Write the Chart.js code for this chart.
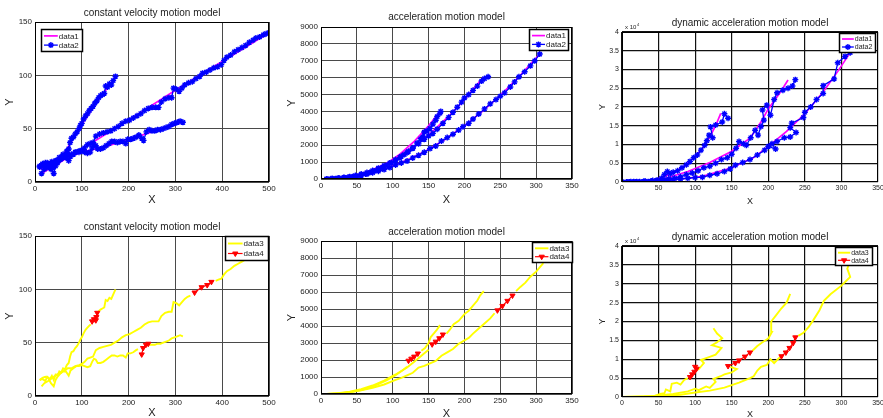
<!DOCTYPE html>
<html>
<head>
<meta charset="utf-8">
<script src="https://cdn.jsdelivr.net/npm/chart.js@4.4.1/dist/chart.umd.min.js"></script>
<style>
html, body { margin: 0; padding: 0; background: #fff; overflow: hidden; }
body { width: 883px; height: 418px; position: relative; }
canvas { position: absolute; }
</style>
</head>
<body>
<script>
// ---- constant velocity model (x, y) ----
const cvTrueA = [[12,12],[40,17],[60,25],[75,36],[100,54],[120,67],[140,80],[160,91],[172,99]];
const cvTrueB = [[14,8],[100,31],[200,58],[300,86],[400,113],[500,140]];
const cvTrueC = [[10,14],[50,20],[100,28],[150,33],[200,40],[250,47],[315,56]];

const cvMeasA = [[10,14],[16,16],[22,13],[26,18],[32,15],[36,19],[40,14],[44,20],[48,19],[52,23],[56,22],[60,26],[64,25],[68,29],[72,31],[75,37],[78,41],[82,42],[86,45],[90,47],[94,50],[97,53],[100,55],[104,59],[108,62],[112,64],[116,67],[120,69],[124,71],[128,74],[132,76],[136,79],[140,81],[144,82],[148,83],[151,90],[155,89],[159,92],[163,91],[167,95],[172,99]];
const cvMeasB = [[14,8],[20,12],[28,14],[34,16],[40,18],[46,20],[52,21],[58,23],[64,24],[70,26],[78,26],[86,28],[94,29],[100,30],[106,32],[112,35],[118,36],[124,37],[130,43],[138,45],[146,46],[154,47],[162,48],[170,50],[178,52],[186,55],[194,57],[202,58],[210,60],[218,62],[226,64],[234,67],[242,69],[250,70],[258,70],[264,70],[270,75],[278,78],[286,79],[292,79],[296,88],[302,87],[308,85],[314,88],[320,91],[328,93],[336,94],[344,97],[352,99],[358,102],[366,103],[374,105],[382,107],[390,108],[398,110],[404,114],[410,117],[418,119],[426,122],[434,124],[442,126],[450,128],[458,131],[466,133],[472,135],[480,136],[488,138],[494,139],[500,140]];
const cvMeasC = [[10,15],[16,17],[22,18],[28,17],[34,12],[40,8],[44,15],[48,18],[54,21],[60,23],[66,23],[72,20],[76,24],[82,26],[88,28],[94,28],[100,29],[106,28],[112,27],[118,28],[122,32],[126,35],[130,34],[134,31],[140,31],[146,32],[152,34],[158,36],[164,38],[170,38],[176,37],[182,38],[188,38],[194,36],[198,40],[204,40],[210,41],[216,42],[222,44],[228,41],[232,39],[238,47],[244,49],[250,48],[256,48],[262,49],[268,49],[274,50],[280,51],[286,52],[292,54],[298,55],[304,56],[310,57],[316,56]];

const cvObsA = [[10,15],[16,16],[22,14],[26,18],[32,16],[36,19],[40,15],[44,20],[48,19],[52,23],[56,22],[60,26],[64,25],[68,29],[72,31],[75,37],[78,41],[82,42],[86,45],[90,47],[94,50],[97,53],[100,55],[104,59],[108,62],[112,64],[116,66],[119,67],null,[135,79],[140,81],[144,82],[148,83],[151,90],[155,89],[159,92],[163,91],[167,95],[172,100]];
const cvObsB = [[14,9],[20,12],[28,14],[34,16],[40,18],[46,20],[52,21],[58,23],[64,24],[70,26],[78,26],[86,28],[94,29],[100,30],[106,32],[112,35],[118,36],[124,37],[130,43],[138,45],[146,46],[154,47],[162,48],[170,50],[178,52],[186,55],[194,57],[202,58],[210,60],[218,62],[226,64],[234,67],[242,69],[250,70],[258,70],[264,70],[270,75],[278,78],[286,79],[292,79],[296,88],[302,87],[308,85],[314,88],[320,91],[326,93],[332,94],null,[386,108],[392,109],[398,110],[404,114],[410,117],[418,119],[426,122],[434,124],[442,126],[450,128],[458,131],[466,133],[472,135],[480,136],[488,138],[500,140]];
const cvObsC = [[10,15],[16,17],[22,18],[28,17],[34,12],[40,9],[44,15],[48,18],[54,21],[60,23],[66,23],[72,19],[76,24],[82,26],[88,28],[94,28],[100,29],[106,28],[112,27],[118,28],[122,32],[126,35],[130,34],[134,31],[140,31],[146,32],[152,34],[158,36],[164,38],[170,38],[176,37],[182,38],[188,38],[194,36],[198,40],[204,40],[210,41],[216,43],[220,44],null,[244,48],[250,48],[256,48],[262,49],[268,49],[274,50],[280,51],[286,52],[292,54],[298,55],[304,56],[310,57],[316,56]];
const cvPredA = [[122,70],[126,72],[130,71],[131,74],[133,78]];
const cvPredB = [[341,97],[356,102],[368,104],[377,107]];
const cvPredC = [[228,39],[231,45],[237,48],[242,49]];

// ---- acceleration model ----
const accTrueA = [[8,0],[30,10],[50,140],[70,420],[90,870],[110,1470],[130,2230],[150,3150],[166,4000]];
const accTrueB = [[8,0],[30,70],[50,230],[70,520],[100,1100],[130,1950],[150,2600],[180,3800],[200,4700],[226,6000]];
const accTrueC = [[8,0],[30,60],[50,180],[75,420],[100,770],[125,1210],[150,1750],[175,2400],[200,3150],[225,4000],[250,4950],[275,6000],[305,7400]];

const accMeasA = [[8,0],[14,10],[20,20],[26,40],[32,60],[38,90],[44,130],[50,170],[56,230],[62,300],[68,380],[74,470],[80,580],[86,700],[92,820],[98,960],[104,1100],[110,1280],[116,1450],[122,1640],[128,1850],[134,2130],[139,2380],[142,2500],[144,2780],[148,2850],[152,3000],[156,3250],[160,3480],[162,3700],[166,3900],[167,4000]];
const accMeasB = [[8,0],[16,20],[24,50],[32,90],[40,140],[48,200],[56,290],[64,380],[72,500],[80,640],[88,790],[96,950],[104,1150],[112,1340],[120,1560],[128,1820],[136,2080],[144,2350],[150,2550],[156,2700],[162,2950],[170,3300],[178,3650],[184,3950],[190,4250],[196,4550],[200,4800],[206,5000],[212,5250],[218,5500],[224,5800],[228,5950],[233,6050]];
const accMeasC = [[8,0],[16,20],[24,40],[32,70],[40,110],[48,160],[56,220],[64,290],[72,370],[80,460],[88,560],[96,680],[104,830],[112,950],[120,1060],[128,1250],[136,1400],[144,1580],[152,1800],[160,1950],[168,2250],[176,2450],[184,2650],[192,2900],[198,3100],[206,3300],[212,3550],[220,3850],[228,4150],[236,4450],[244,4700],[250,4900],[256,5100],[264,5450],[270,5750],[276,6050],[284,6350],[292,6700],[298,7000],[305,7400]];

const accObsA = [[8,0],[20,20],[32,60],[44,130],[56,230],[68,380],[80,580],[92,820],[104,1100],[114,1400],[120,1600],null,[140,2550],[145,2700],[150,3000],[153,3350],[158,3600],[162,3800],[166,4050]];
const accObsB = [[8,0],[24,50],[40,140],[56,290],[72,500],[88,790],[104,1150],[120,1560],[130,1900],[140,2250],[150,2600],null,[175,3550],[180,3800],[185,4100],[192,4300],[200,4700],[206,4900],[212,5200],[218,5500],[222,5800],[227,6050]];
const accObsC = [[8,0],[24,40],[40,110],[56,220],[72,370],[88,560],[104,830],[112,950],[120,1100],[128,1250],[136,1550],[144,1650],[152,1800],[160,1950],[168,2250],[176,2450],[184,2650],[192,2950],[198,3100],[206,3300],[212,3550],[220,3850],[228,4150],[236,4450],[242,4750],null,[272,6050],[278,6300],[285,6550],[292,6900],[300,7200],[310,7700]];
const accPredA = [[122,1960],[126,2080],[130,2200],[135,2380]];
const accPredB = [[155,2920],[160,3080],[165,3280],[170,3500]];
const accPredC = [[246,4920],[253,5180],[260,5480],[267,5790]];

// ---- dynamic acceleration model (y in units of 10^4) ----
const dynTrueA = [[0,0],[20,0.01],[40,0.04],[55,0.12],[70,0.25],[85,0.42],[100,0.68],[110,0.9],[120,1.2],[128,1.5],[135,1.83]];
const dynTrueB = [[0,0],[30,0.02],[60,0.1],[90,0.28],[120,0.52],[150,0.82],[175,1.17],[190,1.6],[200,1.95],[215,2.35],[227,2.72]];
const dynTrueC = [[0,0],[50,0.02],[80,0.08],[110,0.15],[150,0.38],[180,0.65],[200,0.95],[225,1.35],[250,1.82],[275,2.4],[295,2.95],[312,3.45]];

const dynMeasA = [[0,0],[6,0],[12,0.01],[18,0],[24,0.01],[30,0.02],[36,0.01],[42,0.04],[48,0.05],[54,0.1],[58,0.2],[62,0.28],[66,0.22],[70,0.26],[76,0.3],[82,0.38],[88,0.46],[93,0.55],[98,0.65],[103,0.72],[108,0.85],[113,0.98],[116,1.1],[119,1.25],[124,1.18],[121,1.47],[128,1.52],[137,1.6],[140,1.82],[145,1.7]];
const dynMeasB = [[0,0],[8,0],[16,0.01],[24,0],[32,0.02],[40,0.02],[48,0.04],[56,0.06],[64,0.08],[72,0.1],[80,0.14],[88,0.2],[96,0.24],[104,0.3],[112,0.38],[120,0.42],[128,0.5],[136,0.6],[144,0.65],[150,0.74],[156,0.9],[160,1.08],[166,1.02],[170,0.98],[176,1.18],[182,1.38],[186,1.25],[190,1.48],[194,1.65],[192,1.92],[198,2.05],[203,1.78],[208,2.2],[212,2.38],[220,2.45],[227,2.5],[233,2.56],[237,2.73]];
const dynMeasC = [[0,0],[10,0],[20,0.01],[30,0.01],[40,0.02],[50,0.03],[60,0.05],[70,0.06],[80,0.08],[90,0.1],[100,0.12],[110,0.13],[120,0.18],[130,0.22],[140,0.28],[148,0.35],[155,0.45],[165,0.52],[175,0.6],[185,0.72],[195,0.85],[200,0.95],[210,0.88],[205,1.02],[212,1.08],[222,1.18],[230,1.2],[238,1.32],[230,1.45],[232,1.57],[248,1.72],[250,1.86],[258,2.0],[266,2.2],[275,2.36],[275,2.57],[290,2.75],[295,3.18],[305,3.35],[312,3.45]];

const dynObsA = [[0,0],[15,0],[30,0.01],[45,0.03],[52,0.08],[58,0.1],[60,0.2],[66,0.15],[68,0.35],[75,0.38],[80,0.33],[85,0.45],[90,0.5],null,[104,0.72],[112,0.9],[108,0.98],[118,1.05],[128,1.12],[136,1.3],[123,1.37],[130,1.45],[137,1.56],[130,1.68],[125,1.82]];
const dynObsB = [[0,0],[40,0.02],[70,0.08],[90,0.15],[100,0.22],[105,0.18],[115,0.28],[120,0.24],[128,0.4],[125,0.48],[135,0.55],[140,0.6],[150,0.65],[157,0.74],[148,0.8],null,[178,1.22],[185,1.35],[192,1.45],[200,1.55],[205,1.72],[204,2.0],[210,2.15],[218,2.35],[225,2.5],[230,2.73]];
const dynObsC = [[0,0],[50,0.02],[80,0.06],[100,0.12],[120,0.17],[140,0.25],[160,0.38],[175,0.5],[180,0.55],[185,0.7],[190,0.8],[198,0.85],[203,1.0],[208,0.9],[214,1.02],[217,1.06],null,[241,1.62],[248,1.7],[255,1.85],[262,2.05],[270,2.3],[276,2.55],[285,2.72],[300,2.95],[312,3.18],[308,3.4],[312,3.6],[316,3.9]];
const dynPredA = [[93,0.53],[96,0.6],[99,0.67],[102,0.75],[100,0.8]];
const dynPredB = [[145,0.82],[155,0.9],[160,0.97],[168,1.07],[175,1.18]];
const dynPredC = [[218,1.08],[224,1.18],[229,1.3],[234,1.43],[237,1.58]];

// axis ranges [min, max, step]
const cvX = [0, 500, 100], cvY = [0, 150, 50];
const accX = [0, 350, 50], accY = [0, 9000, 1000];
const dynX = [0, 350, 50], dynY = [0, 4, 0.5];

Chart.defaults.font.family = "'Liberation Sans', Arial, sans-serif";
Chart.defaults.color = '#222';

const styles = {
    truth: { borderColor: '#ff00ff', borderWidth: 1.7, pointRadius: 0 },
    meas: { borderColor: '#0000ff', borderWidth: 1.3, pointStyle: 'star', pointRadius: 3,
            pointBorderColor: '#0000ff', pointBorderWidth: 1.4 },
    obs: { borderColor: '#ffff00', borderWidth: 1.9, pointRadius: 0 },
    pred: { borderColor: '#ff0000', borderWidth: 1.2, pointStyle: 'triangle', pointRotation: 180,
            pointRadius: 3, pointBackgroundColor: '#ff0000', pointBorderColor: '#ff0000', pointBorderWidth: 1 }
};

const topLegend = { names: ['data1', 'data2'], kinds: ['truth', 'meas'] };
const botLegend = { names: ['data3', 'data4'], kinds: ['obs', 'pred'] };

const panels = [
    { title: 'constant velocity motion model', L: 35, T: 22, R: 269, B: 182, top: 0, bottom: 210,
      x: cvX, y: cvY, tick: 8, lab: 11, legFont: 8,
      series: [[cvMeasA,'meas'],[cvMeasB,'meas'],[cvMeasC,'meas'],[cvTrueA,'truth'],[cvTrueB,'truth'],[cvTrueC,'truth']],
      legend: Object.assign({ left: true, dx: 6, dy: 7, w: 42, h: 23 }, topLegend),
      titleGap: 9, xGap: 18, yGap: 25 },
    { title: 'acceleration motion model', L: 321, T: 27, R: 572, B: 179, top: 0, bottom: 210,
      x: accX, y: accY, tick: 8, lab: 11, legFont: 8,
      series: [[accMeasA,'meas'],[accMeasB,'meas'],[accMeasC,'meas'],[accTrueA,'truth'],[accTrueB,'truth'],[accTrueC,'truth']],
      legend: Object.assign({ left: false, dx: 3, dy: 2, w: 40, h: 22 }, topLegend),
      titleGap: 10, xGap: 21, yGap: 29 },
    { title: 'dynamic acceleration motion model', L: 622, T: 32, R: 878, B: 182, top: 0, bottom: 210,
      x: dynX, y: dynY, tick: 7, lab: 9, legFont: 7, exp: true,
      series: [[dynMeasA,'meas'],[dynMeasB,'meas'],[dynMeasC,'meas'],[dynTrueA,'truth'],[dynTrueB,'truth'],[dynTrueC,'truth']],
      legend: Object.assign({ left: false, dx: 2, dy: 1, w: 37, h: 20 }, topLegend),
      titleGap: 9, xGap: 20, yGap: 19 },
    { title: 'constant velocity motion model', L: 35, T: 236, R: 269, B: 396, top: 205, bottom: 418,
      x: cvX, y: cvY, tick: 8, lab: 11, legFont: 8,
      series: [[cvPredA,'pred'],[cvPredB,'pred'],[cvPredC,'pred'],[cvObsA,'obs'],[cvObsB,'obs'],[cvObsC,'obs']],
      legend: Object.assign({ left: false, dx: 0, dy: 0, w: 44, h: 25 }, botLegend),
      titleGap: 9, xGap: 17, yGap: 25 },
    { title: 'acceleration motion model', L: 321, T: 241, R: 572, B: 394, top: 205, bottom: 418,
      x: accX, y: accY, tick: 8, lab: 11, legFont: 8,
      series: [[accPredA,'pred'],[accPredB,'pred'],[accPredC,'pred'],[accObsA,'obs'],[accObsB,'obs'],[accObsC,'obs']],
      legend: Object.assign({ left: false, dx: -1, dy: 1, w: 41, h: 21 }, botLegend),
      titleGap: 9, xGap: 20, yGap: 29 },
    { title: 'dynamic acceleration motion model', L: 622, T: 246, R: 878, B: 397, top: 205, bottom: 418,
      x: dynX, y: dynY, tick: 7, lab: 9, legFont: 7, exp: true,
      series: [[dynPredA,'pred'],[dynPredB,'pred'],[dynPredC,'pred'],[dynObsA,'obs'],[dynObsB,'obs'],[dynObsC,'obs']],
      legend: Object.assign({ left: false, dx: 5, dy: 1, w: 38, h: 19 }, botLegend),
      titleGap: 9, xGap: 18, yGap: 19 }
];

function toPoints(track) {
    return track.map(p => p ? { x: p[0], y: p[1] } : { x: null, y: null });
}

function drawMarker(ctx, kind, x, y) {
    const s = styles[kind];
    if (!s.pointStyle) return;
    ctx.fillStyle = s.pointBackgroundColor || s.borderColor;
    ctx.strokeStyle = s.pointBorderColor || s.borderColor;
    ctx.lineWidth = s.pointBorderWidth || 1;
    Chart.helpers.drawPoint(ctx, { pointStyle: s.pointStyle, rotation: s.pointRotation || 0,
        radius: s.pointRadius, borderWidth: ctx.lineWidth }, x, y);
}

// MATLAB-like frame: box, legend, title, axis labels
const matlabFrame = {
    id: 'matlabFrame',
    afterDatasetsDraw(chart, args, o) {
        const p = o.panel;
        const a = chart.chartArea;
        const ctx = chart.ctx;
        ctx.save();
        ctx.strokeStyle = '#000';
        ctx.lineWidth = 1;
        ctx.strokeRect(a.left + 0.5, a.top + 0.5, a.right - a.left - 1, a.bottom - a.top - 1);

        // legend
        const lg = p.legend;
        const lx = lg.left ? a.left + lg.dx : a.right - lg.dx - lg.w;
        const ly = a.top + lg.dy;
        ctx.fillStyle = '#fff';
        ctx.fillRect(lx, ly, lg.w, lg.h);
        ctx.lineWidth = 1.5;
        ctx.strokeStyle = '#000';
        ctx.strokeRect(lx + 0.5, ly + 0.5, lg.w - 1, lg.h - 1);
        ctx.font = p.legFont + "px 'Liberation Sans', Arial, sans-serif";
        ctx.textBaseline = 'middle';
        ctx.textAlign = 'left';
        lg.names.forEach((name, i) => {
            const yy = ly + lg.h * (i === 0 ? 0.3 : 0.7);
            const s = styles[lg.kinds[i]];
            const x1 = lx + 3, x2 = lx + lg.w * 0.4;
            ctx.strokeStyle = s.borderColor;
            ctx.lineWidth = s.borderWidth;
            ctx.beginPath(); ctx.moveTo(x1, yy); ctx.lineTo(x2, yy); ctx.stroke();
            drawMarker(ctx, lg.kinds[i], (x1 + x2) / 2, yy);
            ctx.fillStyle = '#222';
            ctx.fillText(name, x2 + 1, yy + 0.5);
        });

        // title and axis labels
        const cx = (a.left + a.right) / 2, cy = (a.top + a.bottom) / 2;
        ctx.fillStyle = '#222';
        ctx.textAlign = 'center';
        ctx.font = "10px 'Liberation Sans', Arial, sans-serif";
        ctx.fillText(p.title, cx, a.top - p.titleGap);
        ctx.font = p.lab + "px 'Liberation Sans', Arial, sans-serif";
        ctx.fillText('X', cx, a.bottom + p.xGap);
        ctx.save();
        ctx.translate(a.left - p.yGap, cy);
        ctx.rotate(-Math.PI / 2);
        ctx.fillText('Y', 0, 0);
        ctx.restore();

        if (p.exp) {
            ctx.textAlign = 'left';
            ctx.font = "6px 'Liberation Sans', Arial, sans-serif";
            ctx.fillText('x 10', a.left + 3, a.top - 5);
            ctx.font = "4px 'Liberation Sans', Arial, sans-serif";
            ctx.fillText('4', a.left + 15, a.top - 7);
        }
        ctx.restore();
    }
};

panels.forEach(p => {
    const padL = 35, padR = p.exp ? 8 : 12;
    const canvas = document.createElement('canvas');
    const left = p.L - padL, width = p.R - p.L + padL + padR, height = p.bottom - p.top;
    canvas.width = width; canvas.height = height;
    canvas.style.left = left + 'px'; canvas.style.top = p.top + 'px';
    canvas.style.width = width + 'px'; canvas.style.height = height + 'px';
    document.body.appendChild(canvas);

    const gridColor = p.exp ? '#111' : '#4a4a4a';
    const datasets = p.series.map(([track, kind]) => Object.assign({
        data: toPoints(track), showLine: true, tension: 0, fill: false, spanGaps: false
    }, styles[kind]));

    new Chart(canvas, {
        type: 'scatter',
        data: { datasets: datasets },
        options: {
            responsive: false,
            animation: false,
            events: [],
            layout: { padding: { top: p.T - p.top, right: padR, left: 0, bottom: 0 } },
            plugins: { legend: { display: false }, title: { display: false }, tooltip: { enabled: false },
                       matlabFrame: { panel: p } },
            scales: {
                x: {
                    type: 'linear', min: p.x[0], max: p.x[1],
                    afterFit: s => { s.height = p.bottom - p.B; },
                    ticks: { stepSize: p.x[2], autoSkip: false, maxRotation: 0, padding: 2,
                             font: { size: p.tick }, color: '#222', callback: v => String(v) },
                    grid: { color: gridColor, lineWidth: p.exp ? 1.2 : 1, drawTicks: false },
                    border: { display: false }
                },
                y: {
                    type: 'linear', min: p.y[0], max: p.y[1],
                    afterFit: s => { s.width = padL; },
                    ticks: { stepSize: p.y[2], autoSkip: false, padding: 3,
                             font: { size: p.tick }, color: '#222', callback: v => String(v) },
                    grid: { color: gridColor, lineWidth: p.exp ? 1.2 : 1, drawTicks: false },
                    border: { display: false }
                }
            }
        },
        plugins: [matlabFrame]
    });
});
</script>
</body>
</html>
